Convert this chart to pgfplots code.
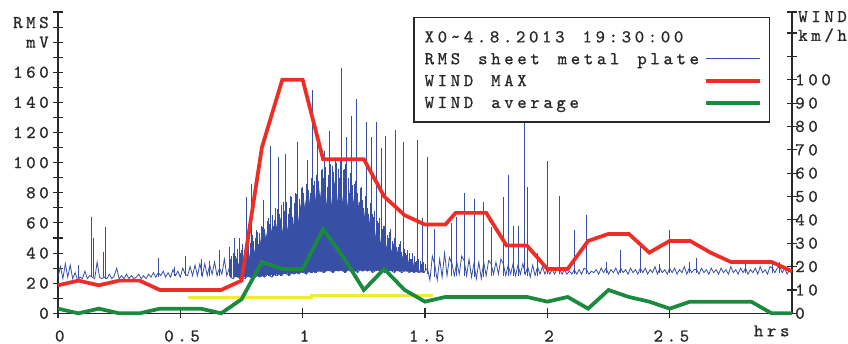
\documentclass[border=0pt]{standalone}
\usepackage{fontspec}
\usepackage{pgfplots}
\usepackage{pgfplotstable}
\pgfplotsset{compat=1.18}

% typewriter face, spread out like the recorder's screen font
\newfontfamily\monoface{lmmono10-regular.otf}[LetterSpace=20, WordSpace=1.375, FakeBold=0.8]
\newcommand\chartfont{\monoface\fontsize{13.5pt}{15pt}\selectfont}

\definecolor{rmsblue}{RGB}{55,80,165}
\definecolor{windred}{RGB}{238,45,38}
\definecolor{windgreen}{RGB}{28,138,62}
\definecolor{refyellow}{RGB}{240,234,60}
\definecolor{inkgray}{RGB}{40,40,40}

% individual RMS bursts: time (hrs), peak and foot (mV)
\pgfplotstableread{
x     hi   lo
0.085 32   23
0.135 64   24
0.145 50   24
0.185 41   24
0.195 57   23
0.410 37   24
0.475 31   25
0.520 38   25
0.585 36   25
0.620 35   25
0.660 42   25
0.700 44   25
0.705 36   24
0.710 38   24
0.715 40   23
0.720 50   24
0.725 38   25
0.730 36   24
0.735 43   24
0.740 50   23
0.745 40   23
0.750 42   24
0.755 46   24
0.760 38   24
0.765 44   23
0.770 77   24
0.775 49   25
0.780 45   24
0.785 47   24
0.790 86   24
0.795 52   23
0.800 48   24
0.805 50   24
0.810 55   25
0.815 54   25
0.820 46   24
0.825 53   24
0.830 58   25
0.835 57   25
0.840 75   24
0.845 56   24
0.850 52   25
0.855 61   26
0.860 63   25
0.865 59   25
0.870 111  24
0.875 65   24
0.880 58   25
0.885 62   26
0.890 70   25
0.895 69   25
0.900 104  26
0.905 66   26
0.910 62   25
0.915 72   25
0.920 74   26
0.925 68   27
0.930 106  26
0.935 74   26
0.940 66   25
0.945 70   25
0.950 78   26
0.955 77   27
0.960 64   26
0.965 73   26
0.970 80   27
0.975 79   27
0.980 114  26
0.985 76   26
0.990 70   27
0.995 83   28
1.000 84   27
1.005 80   27
1.010 72   26
1.015 86   26
1.020 102  27
1.025 82   28
1.030 80   27
1.035 90   27
1.040 148  27
1.045 85   28
1.050 88   27
1.055 92   27
1.060 115  28
1.065 88   29
1.070 76   28
1.075 95   28
1.080 96   28
1.085 90   27
1.090 108  27
1.095 97   28
1.100 84   28
1.105 92   29
1.110 121  28
1.115 99   28
1.120 98   27
1.125 94   27
1.130 82   28
1.135 101  29
1.140 100  28
1.145 96   28
1.150 90   28
1.155 102  29
1.160 163  28
1.165 95   28
1.170 96   27
1.175 99   27
1.180 117  28
1.185 90   29
1.190 80   28
1.195 93   28
1.200 131  28
1.205 85   29
1.210 86   28
1.215 88   28
1.220 142  28
1.225 80   27
1.230 74   28
1.235 83   29
1.240 84   28
1.245 75   28
1.250 70   28
1.255 78   29
1.260 127  28
1.265 70   28
1.270 66   28
1.275 73   29
1.280 117  28
1.285 66   27
1.290 64   28
1.295 68   28
1.300 127  28
1.305 61   29
1.310 60   28
1.315 63   28
1.320 110  28
1.325 56   29
1.330 58   28
1.335 58   27
1.340 118  28
1.345 52   28
1.350 50   28
1.355 54   29
1.360 56   28
1.365 48   28
1.370 46   28
1.375 50   27
1.380 122  28
1.385 44   29
1.390 44   28
1.395 46   28
1.400 48   28
1.405 41   27
1.410 114  28
1.415 43   28
1.420 40   28
1.425 39   29
1.430 42   28
1.435 40   27
1.440 36   28
1.445 36   28
1.450 40   28
1.455 38   27
1.460 34   28
1.465 35   28
1.470 115  28
1.475 36   27
1.480 35   28
1.485 33   28
1.490 63   28
1.495 34   27
1.500 33   28
1.510 104  26
1.540 56   24
1.610 60   25
1.630 64   25
1.660 80   25
1.700 76   24
1.740 74   24
1.770 57   25
1.820 77   25
1.840 92   25
1.860 58   25
1.880 58   25
1.905 127  26
1.920 84   25
1.960 40   25
2.000 101  26
2.050 78   26
2.110 55   26
2.160 65   26
2.240 34   27
2.300 42   27
2.380 44   27
2.460 33   27
2.500 55   27
2.580 34   27
2.610 37   27
2.810 33   27
2.920 35   27
2.950 34   27
}\rmsbursts

\pgfplotsset{
  chart/.style={
    scale only axis, width=550.5pt, height=226pt,
    xmin=0, xmax=3,
    axis line style={inkgray, line width=0.9pt},
    tick style={inkgray, line width=0.8pt},
    major tick length=7.5pt,
    tick align=center,
    tick label style={font=\chartfont, text=inkgray},
  },
}

\begin{document}
\begin{tikzpicture}

% ---------------- left axis: RMS of the sheet metal plate (mV)
\begin{axis}[chart,
  axis x line*=bottom, axis y line*=left,
  ymin=0, ymax=200,
  xtick={0,0.5,1,1.5,2,2.5},
  xticklabels={0,0.5,1,1.5,2,2.5},
  xticklabel style={anchor=north, inner sep=0pt, yshift=-8.8pt, xshift=1.3pt},
  ytick={0,10,...,200},
  yticklabels={0,{},20,{},40,{},60,{},80,{},100,{},120,{},140,{},160,{},{},{},{}},
  yticklabel style={anchor=east, inner sep=0pt, xshift=-3pt},
  clip mode=individual,
]
\coordinate (plotsw) at (rel axis cs:0,0);
\coordinate (plotne) at (rel axis cs:1,1);

% solid core of the gusty period
\addplot[draw=none, fill=rmsblue] coordinates {
(0.72,24)(0.80,24.5)(0.90,26)(1.00,27)(1.10,28)(1.20,28.5)(1.30,28.5)(1.40,28)(1.50,27)
(1.49,31)(1.48,27)(1.47,33)(1.46,28)(1.45,35)(1.44,29)(1.43,37)(1.42,31)(1.41,39)(1.40,34)
(1.39,43)(1.38,36)(1.37,47)(1.36,40)(1.35,50)(1.34,43)(1.33,54)(1.32,46)(1.31,58)(1.30,50)
(1.29,62)(1.28,53)(1.27,66)(1.26,56)(1.25,70)(1.24,60)(1.23,75)(1.22,63)(1.21,78)(1.20,66)
(1.19,82)(1.18,69)(1.17,86)(1.16,72)(1.15,88)(1.14,73)(1.13,88)(1.12,71)(1.11,87)(1.10,71)
(1.09,85)(1.08,69)(1.07,83)(1.06,67)(1.05,81)(1.04,66)(1.03,78)(1.02,64)(1.01,76)(1.00,62)
(0.99,73)(0.98,59)(0.97,71)(0.96,57)(0.95,68)(0.94,55)(0.93,65)(0.92,53)(0.91,64)(0.90,52)
(0.89,61)(0.88,49)(0.87,58)(0.86,46)(0.85,54)(0.84,43)(0.83,51)(0.82,41)(0.81,48)(0.80,39)
(0.79,46)(0.78,36)(0.77,43)(0.76,34)(0.75,40)(0.74,32)(0.73,37)(0.72,29)
} -- cycle;

% bursts: one stroke from foot to peak
\addplot[only marks, mark=*, mark options={draw=none, fill=none, mark size=0pt},
  error bars/.cd, y dir=minus, y explicit, error mark=none,
  error bar style={draw=rmsblue, line width=0.65pt}]
  table[x=x, y=hi, y error expr=\thisrow{hi}-\thisrow{lo}] {\rmsbursts};

% continuous RMS trace (noise floor)
\addplot[rmsblue, line width=0.6pt] coordinates {
(0.00,24)(0.01,31)(0.02,23)(0.03,33)(0.04,24)(0.05,32)(0.06,23)(0.07,27)(0.08,22)
(0.09,24)(0.10,23)(0.11,28)(0.12,23)(0.13,25)(0.14,24)(0.15,23)(0.16,34)
(0.17,24)(0.18,23)(0.19,24)(0.20,23)(0.21,26)(0.22,23)(0.23,25)(0.24,30)
(0.25,23)(0.26,25)(0.27,23)(0.28,26)(0.29,23)(0.30,25)(0.31,23)(0.32,24)(0.33,26)(0.34,23)
(0.35,25)(0.36,23)(0.37,26)(0.38,24)(0.39,27)(0.40,24)(0.41,27)(0.42,25)(0.43,28)(0.44,24)
(0.45,27)(0.46,24)(0.47,29)(0.48,25)(0.49,28)(0.50,24)(0.51,30)(0.52,26)(0.53,25)
(0.54,31)(0.55,25)(0.56,32)(0.57,25)(0.58,33)(0.59,25)(0.60,33)(0.61,25)(0.62,32)
(0.63,26)(0.64,34)(0.65,25)(0.66,30)(0.67,26)(0.68,36)(0.69,25)(0.70,30)
(0.705,24)(0.715,23)(0.725,25)(0.735,24)(0.745,23)(0.755,24)(0.765,23)(0.775,25)(0.785,24)(0.795,23)
(0.805,24)(0.815,25)(0.825,24)(0.835,25)(0.845,24)(0.855,26)(0.865,25)(0.875,24)(0.885,26)(0.895,25)
(0.905,26)(0.915,25)(0.925,27)(0.935,26)(0.945,25)(0.955,27)(0.965,26)(0.975,27)(0.985,26)(0.995,28)
(1.005,27)(1.015,26)(1.025,28)(1.035,27)(1.045,28)(1.055,27)(1.065,29)(1.075,28)(1.085,27)(1.095,28)
(1.105,29)(1.115,28)(1.125,27)(1.135,29)(1.145,28)(1.155,29)(1.165,28)(1.175,27)(1.185,29)(1.195,28)
(1.205,29)(1.215,28)(1.225,27)(1.235,29)(1.245,28)(1.255,29)(1.265,28)(1.275,29)(1.285,27)(1.295,28)
(1.305,29)(1.315,28)(1.325,29)(1.335,27)(1.345,28)(1.355,29)(1.365,28)(1.375,27)(1.385,29)(1.395,28)
(1.405,27)(1.415,28)(1.425,29)(1.435,27)(1.445,28)(1.455,27)(1.465,28)(1.475,27)(1.485,28)(1.495,27)
(1.51,30)(1.52,22)(1.53,38)(1.54,32)(1.55,22)(1.56,36)(1.57,24)(1.58,40)(1.59,25)(1.60,37)
(1.61,33)(1.62,25)(1.63,34)(1.64,26)(1.65,38)(1.66,35)(1.67,25)(1.68,36)(1.69,24)(1.70,33)
(1.71,23)(1.72,34)(1.73,23)(1.74,34)(1.75,25)(1.76,35)(1.77,33)(1.78,26)(1.79,34)(1.80,26)
(1.81,36)(1.82,33)(1.83,25)(1.84,32)(1.85,26)(1.86,33)(1.87,25)(1.88,32)(1.89,26)(1.90,33)
(1.91,26)(1.92,31)(1.93,24)(1.94,32)(1.95,25)(1.96,31)(1.97,26)(1.98,31)(1.99,26)
(2.00,30)(2.01,26)(2.02,29)(2.03,26)(2.04,30)(2.05,29)(2.06,26)(2.07,29)(2.08,26)(2.09,28)
(2.10,26)(2.11,29)(2.12,26)(2.13,29)(2.14,26)(2.15,30)(2.16,29)(2.17,26)(2.18,28)(2.19,27)
(2.20,29)(2.21,26)(2.22,30)(2.23,27)(2.24,30)(2.25,26)(2.26,29)(2.27,27)(2.28,30)(2.29,26)
(2.30,30)(2.31,27)(2.32,29)(2.33,26)(2.34,30)(2.35,27)(2.36,29)(2.37,26)(2.38,30)(2.39,27)
(2.40,30)(2.41,26)(2.42,29)(2.43,27)(2.44,31)(2.45,26)(2.46,30)(2.47,27)(2.48,29)(2.49,26)
(2.50,30)(2.51,27)(2.52,30)(2.53,26)(2.54,29)(2.55,27)(2.56,31)(2.57,26)(2.58,30)(2.59,27)
(2.60,29)(2.61,29)(2.62,26)(2.63,30)(2.64,27)(2.65,29)(2.66,26)(2.67,30)(2.68,27)(2.69,29)
(2.70,26)(2.71,30)(2.72,27)(2.73,29)(2.74,26)(2.75,31)(2.76,27)(2.77,29)(2.78,26)(2.79,30)
(2.80,27)(2.81,30)(2.82,26)(2.83,29)(2.84,27)(2.85,30)(2.86,26)(2.87,31)(2.88,27)(2.89,29)
(2.90,26)(2.91,31)(2.92,30)(2.93,27)(2.94,30)(2.95,31)(2.96,27)(2.97,30)(2.98,26)(2.99,29)
(3.00,27)
};

\node[anchor=east, inner sep=0pt, font=\chartfont, text=inkgray]
  at ([xshift=-6.75pt]axis cs:0,193) {RMS};
\node[anchor=east, inner sep=0pt, font=\chartfont, text=inkgray]
  at ([xshift=-6.75pt]axis cs:0,180) {mV};
\node[anchor=north, inner sep=0pt, font=\chartfont, text=inkgray]
  at ([yshift=-8.8pt, xshift=1.3pt]axis cs:2.91,0) {hrs};
\end{axis}

% ---------------- right axis: wind speed (km/h)
\begin{axis}[chart,
  axis x line=none, axis y line*=right,
  ymin=0, ymax=129,
  ytick={0,10,20,30,40,50,60,70,80,90,100,110,120,129},
  yticklabels={0,10,20,30,40,50,60,70,80,90,100,{},{},{}},
  yticklabel style={anchor=west, inner sep=0pt, xshift=-1.5pt},
  clip=false,
  legend plot pos=right,
  legend cell align=left,
  legend image code/.code={\draw[#1] (0pt,0pt) -- (40pt,0pt);},
  legend style={
    at={(rel axis cs:0.970,0.983)}, anchor=north east,
    draw=inkgray, line width=0.9pt, fill=white,
    inner xsep=6pt, inner ysep=9pt,
    font=\chartfont, text=inkgray,
    row sep=5.4pt,
    nodes={inner sep=0pt, inner xsep=2pt, text height=9.5pt, text depth=1.5pt},
    /tikz/every odd column/.append style={column sep=2pt},
  },
]
\addlegendimage{empty legend}
\addlegendentry{X0\textasciitilde 4.8.2013 19:30:00}
\addlegendimage{rmsblue, line width=0.8pt}
\addlegendentry{RMS sheet metal plate}

% reference level
\addplot[refyellow, line width=2.2pt, forget plot] coordinates {
(0.533,6.7)(1.037,6.7)(1.037,7.5)(1.533,7.5)
};

\addplot[windred, line width=2.8pt] coordinates {
(0,12)(0.0833,14)(0.1667,12)(0.25,14)(0.3333,14)(0.4167,10)(0.5,10)(0.5833,10)(0.6667,10)
(0.75,14)(0.8333,71)(0.9167,100)(1,100)(1.0833,66)(1.1667,66)(1.25,66)(1.3333,50)(1.4167,42)
(1.5,38)(1.5833,38)(1.625,43)(1.75,43)(1.8333,29)(1.9167,29)(2,19)(2.0833,19)(2.1667,31)
(2.25,34)(2.3333,34)(2.4167,26)(2.5,31)(2.5833,31)(2.6667,26)(2.75,22)(2.8333,22)(2.9167,22)(3,18)
};
\addlegendentry{WIND MAX}

\addplot[windgreen, line width=2.8pt] coordinates {
(0,2)(0.0833,0)(0.1667,2)(0.25,0)(0.3333,0)(0.4167,2)(0.5,2)(0.5833,2)(0.6667,0)(0.75,6)
(0.8333,22)(0.9167,19)(1,19)(1.0833,36)(1.1667,24)(1.25,10)(1.3333,19)(1.4167,10)(1.5,5)
(1.5833,7)(1.6667,7)(1.75,7)(1.8333,7)(1.9167,7)(2,5)(2.0833,7)(2.1667,2)(2.25,10)(2.3333,7)
(2.4167,5)(2.5,2)(2.5833,5)(2.6667,5)(2.75,5)(2.8333,5)(2.9167,0)(3,0)
};
\addlegendentry{WIND average}

\node[anchor=west, inner sep=0pt, font=\chartfont, text=inkgray]
  at ([xshift=4.5pt]axis cs:3,127) {WIND};
\node[anchor=west, inner sep=0pt, font=\chartfont, text=inkgray]
  at ([xshift=4.5pt]axis cs:3,119) {km/h};
\end{axis}

\pgfresetboundingbox
\path[use as bounding box] ([shift={(-43.5pt,-23pt)}]plotsw) rectangle ([shift={(42pt,9pt)}]plotne);
\end{tikzpicture}
\end{document}
